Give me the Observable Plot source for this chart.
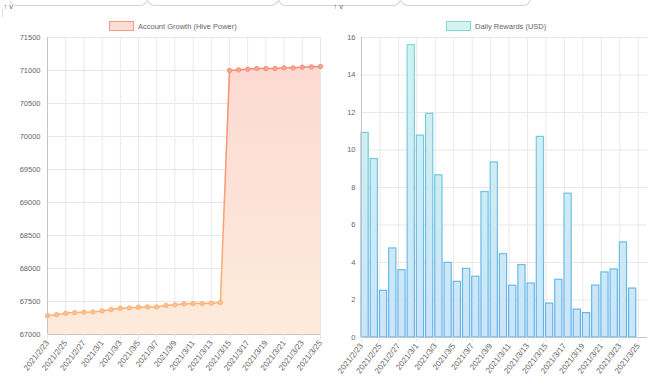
<!DOCTYPE html>
<html>
<head>
<meta charset="utf-8">
<script src="https://cdn.jsdelivr.net/npm/d3@7"></script>
<script src="https://cdn.jsdelivr.net/npm/@observablehq/plot@0.6"></script>
<style>
  html, body { margin: 0; padding: 0; background: #fff; }
  #root { position: relative; width: 667px; height: 392px; overflow: hidden; font-family: "Liberation Sans", Arial, sans-serif; }
  .tab { position: absolute; top: -10px; height: 16px; border: 1px solid #d4d4d4; border-top: none; border-radius: 0 0 8px 8px; box-sizing: border-box; }
  .legend { position: absolute; top: 21px; font-size: 7.5px; color: #666; display: flex; align-items: center; white-space: nowrap; }
  .legend .box { width: 23px; height: 8px; margin-right: 4px; }
  .chart { position: absolute; top: 0; }
</style>
</head>
<body>
<div id="root">
  <div style="position:absolute;left:2px;top:8px;width:1px;height:9px;background:#e0e0e0"></div>
  <div class="tab" style="left:9px;width:139px"></div>
  <div class="tab" style="left:147px;width:132px"></div>
  <div class="tab" style="left:278px;width:123px"></div>
  <div class="tab" style="left:400px;width:131px"></div>
  <div class="legend" style="left:109px"><div class="box" style="background:#fcdcd6;border:1px solid #f59a8a"></div>Account Growth (Hive Power)</div>
  <div class="legend" style="left:446px"><div class="box" style="background:#d4f4f0;border:1px solid #7fd8d2"></div>Daily Rewards (USD)</div>
  <div id="left" class="chart" style="left:0"></div>
  <div id="right" class="chart" style="left:330px"></div>
</div>
<script>
// ---- data ----
const dates = ["2021-02-23","2021-02-24","2021-02-25","2021-02-26","2021-02-27","2021-02-28",
  "2021-03-01","2021-03-02","2021-03-03","2021-03-04","2021-03-05","2021-03-06","2021-03-07",
  "2021-03-08","2021-03-09","2021-03-10","2021-03-11","2021-03-12","2021-03-13","2021-03-14",
  "2021-03-15","2021-03-16","2021-03-17","2021-03-18","2021-03-19","2021-03-20","2021-03-21",
  "2021-03-22","2021-03-23","2021-03-24","2021-03-25"];
const hivePower = [67286, 67301, 67321, 67332, 67337, 67342, 67357, 67378, 67398, 67403,
  67413, 67418, 67418, 67439, 67449, 67464, 67469, 67469, 67474, 67485,
  71000, 71010, 71020, 71030, 71030, 71030, 71040, 71040, 71050, 71055, 71060];
const rewardDates = ["2021-02-23","2021-02-24","2021-02-25","2021-02-26","2021-02-27","2021-02-28",
  "2021-03-01","2021-03-02","2021-03-03","2021-03-04","2021-03-05","2021-03-06","2021-03-07",
  "2021-03-08","2021-03-09","2021-03-10","2021-03-11","2021-03-12","2021-03-13","2021-03-14",
  "2021-03-15","2021-03-16","2021-03-17","2021-03-18","2021-03-19","2021-03-20","2021-03-21",
  "2021-03-22","2021-03-23","2021-03-24"];
const rewards = [10.91, 9.52, 2.49, 4.75, 3.59, 15.59, 10.77, 11.93, 8.65, 3.98,
  2.97, 3.66, 3.24, 7.76, 9.34, 4.44, 2.76, 3.86, 2.88, 10.70,
  1.81, 3.08, 7.67, 1.49, 1.30, 2.77, 3.47, 3.63, 5.07, 2.61];
const xTickLabels = ["2021-02-23","2021-02-25","2021-02-27","2021-03-01","2021-03-03","2021-03-05",
  "2021-03-07","2021-03-09","2021-03-11","2021-03-13","2021-03-15","2021-03-17","2021-03-19",
  "2021-03-21","2021-03-23","2021-03-25"];
const hpTicks = [67000, 67500, 68000, 68500, 69000, 69500, 70000, 70500, 71000, 71500];
const usdTicks = [0, 2, 4, 6, 8, 10, 12, 14, 16];

// ---- helpers ----
const parse = d3.utcParse("%Y-%m-%d");
const fmt = d => `${d.getUTCFullYear()}/${d.getUTCMonth() + 1}/${d.getUTCDate()}`;
const xTicks = xTickLabels.map(parse);
const hpData = dates.map((d, i) => ({date: parse(d), v: hivePower[i]}));
const rwData = rewardDates.map((d, i) => ({date: parse(d), v: rewards[i]}));
const DAY = 864e5;
const ns = "http://www.w3.org/2000/svg";
function defs(html) {
  return () => { const g = document.createElementNS(ns, "defs"); g.innerHTML = html; return g; };
}
const style = {fontFamily: "'Liberation Sans', Arial, sans-serif", fontSize: "7.5px", color: "#666", background: "transparent", overflow: "visible"};
const gridC = "#e8e8e8";
const axisC = "#c4c4c4";

// ---- left chart ----
const left = Plot.plot({
  width: 333, height: 390,
  marginLeft: 47, marginRight: 13, marginTop: 37, marginBottom: 56,
  style,
  x: {type: "utc", domain: [parse("2021-02-23"), parse("2021-03-25")]},
  y: {domain: [67000, 71500]},
  marks: [
    defs(`
      <linearGradient id="gArea" gradientUnits="userSpaceOnUse" x1="0" y1="60" x2="0" y2="334">
        <stop offset="0" stop-color="#fcd9d2"/><stop offset="1" stop-color="#fdebdb"/>
      </linearGradient>
      <linearGradient id="gLine" gradientUnits="userSpaceOnUse" x1="0" y1="60" x2="0" y2="334">
        <stop offset="0" stop-color="#f48c78"/><stop offset="1" stop-color="#fbb473"/>
      </linearGradient>
      <linearGradient id="gDot" gradientUnits="userSpaceOnUse" x1="0" y1="60" x2="0" y2="334">
        <stop offset="0" stop-color="#f7a592"/><stop offset="1" stop-color="#fdc58e"/>
      </linearGradient>`),
    Plot.gridY(hpTicks, {stroke: gridC, strokeOpacity: 1}),
    Plot.gridX(xTicks, {stroke: gridC, strokeOpacity: 1}),
    Plot.areaY(hpData, {x: "date", y1: 67000, y2: "v", fill: "url(#gArea)"}),
    Plot.lineY(hpData, {x: "date", y: "v", stroke: "url(#gLine)", strokeWidth: 1.5}),
    Plot.dot(hpData, {x: "date", y: "v", r: 2.2, fill: "url(#gDot)", stroke: "url(#gLine)", strokeWidth: 1}),
    Plot.ruleX([parse("2021-02-23")], {stroke: axisC}),
    Plot.ruleY([67000], {stroke: axisC}),
    Plot.axisY(hpTicks, {tickSize: 0, tickPadding: 7, fill: "#666", tickFormat: d => String(d)}),
    Plot.axisX(xTicks, {tickFormat: fmt, tickRotate: -52, textAnchor: "end", tickSize: 5, tickPadding: 2, stroke: gridC, fill: "#666", fontSize: 8})
  ]
});
document.getElementById("left").append(left);

// ---- right chart ----
const right = Plot.plot({
  width: 337, height: 390,
  marginLeft: 31, marginRight: 20, marginTop: 37, marginBottom: 53,
  style,
  x: {type: "utc", domain: [parse("2021-02-23"), parse("2021-03-26")]},
  y: {domain: [0, 16]},
  marks: [
    defs(`
      <linearGradient id="gBar" gradientUnits="userSpaceOnUse" x1="0" y1="40" x2="0" y2="337">
        <stop offset="0" stop-color="#d2f2f0"/><stop offset="1" stop-color="#cbe5f8"/>
      </linearGradient>
      <linearGradient id="gBarS" gradientUnits="userSpaceOnUse" x1="0" y1="40" x2="0" y2="337">
        <stop offset="0" stop-color="#7fd6d8"/><stop offset="1" stop-color="#63b2ee"/>
      </linearGradient>`),
    Plot.gridY(usdTicks, {stroke: gridC, strokeOpacity: 1}),
    Plot.gridX(xTicks, {stroke: gridC, strokeOpacity: 1}),
    Plot.rectY(rwData, {x1: "date", x2: d => new Date(+d.date + 0.78 * DAY), y1: 0, y2: "v",
      fill: "url(#gBar)", stroke: "url(#gBarS)", strokeWidth: 1.2}),
    Plot.ruleX([parse("2021-02-23")], {stroke: axisC}),
    Plot.ruleY([0], {stroke: axisC}),
    Plot.axisY(usdTicks, {tickSize: 0, tickPadding: 6, fill: "#666"}),
    Plot.axisX(xTicks, {tickFormat: fmt, tickRotate: -52, textAnchor: "end", tickSize: 5, tickPadding: 2, stroke: gridC, fill: "#666", fontSize: 8})
  ]
});
document.getElementById("right").append(right);
</script>
</body>
</html>
